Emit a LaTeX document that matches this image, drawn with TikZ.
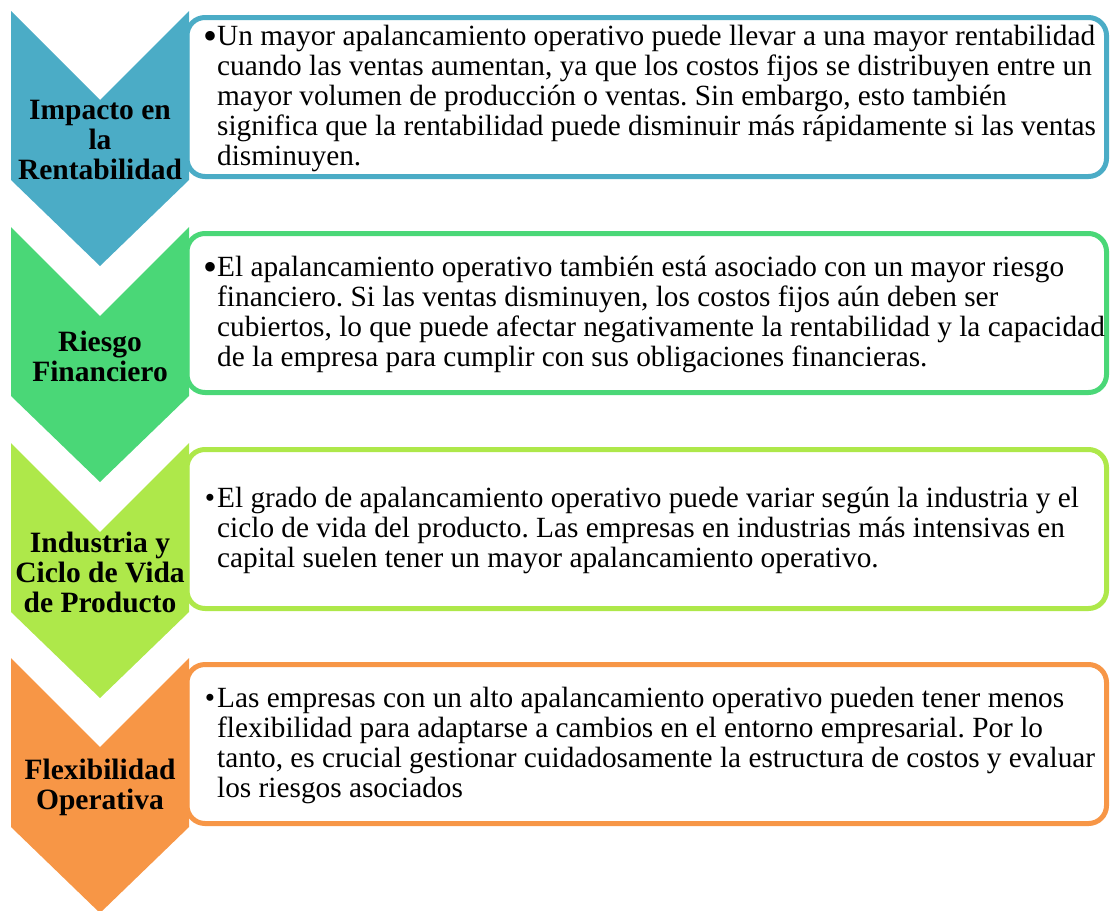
\documentclass[tikz,border=0pt]{standalone}
\usepackage{fontspec}
\setmainfont{Liberation Serif}
\frenchspacing
\definecolor{azul}{HTML}{4BACC6}
\definecolor{verde}{HTML}{4AD777}
\definecolor{lima}{HTML}{AEE84A}
\definecolor{naranja}{HTML}{F79646}
\newcommand{\bgrande}{\llap{\raisebox{-4.5pt}{\fontsize{40}{30}\selectfont\textbullet}}}
\newcommand{\bchico}{\llap{\textbullet\hspace{2pt}}}
% one row: name, top, colour, label, bullet, text
\newcommand{\etapa}[6]{%
  \draw[#3,line width=5pt,fill=white,rounded corners=18pt]
    (187,{#2+6.5}) -- (1106.5,{#2+6.5}) -- (1106.5,{#2+165.5}) -- (187,{#2+165.5}) -- cycle;
  \fill[#3] (11,#2) -- (100,{#2+89}) -- (189,#2) -- (189,{#2+169})
    -- (100,{#2+255}) -- (11,{#2+169}) -- cycle;
  \node[etiqueta] (lbl#1) at (100,{#2+129}) {#4};
  \node[texto] (txt#1) at (217,{#2+87}) {#5#6};
}

\begin{document}
\begin{tikzpicture}[x=1pt,y=-1pt,
  etiqueta/.style={align=center,inner sep=0pt,font=\fontsize{29.5}{30}\selectfont\bfseries},
  texto/.style={anchor=west,align=left,inner sep=0pt,font=\fontsize{29.3}{30}\selectfont}]
  \useasboundingbox (0,0) rectangle (1110,910);

  \etapa{1}{11}{azul}{Impacto en\\la\\Rentabilidad}{\bgrande}{Un mayor apalancamiento operativo puede llevar a una mayor rentabilidad\\cuando las ventas aumentan, ya que los costos fijos se distribuyen entre un\\mayor volumen de producción o ventas. Sin embargo, esto también\\significa que la rentabilidad puede disminuir más rápidamente si las ventas\\disminuyen.}
  \etapa{2}{227}{verde}{Riesgo\\Financiero}{\bgrande}{El apalancamiento operativo también está asociado con un mayor riesgo\\financiero. Si las ventas disminuyen, los costos fijos aún deben ser\\cubiertos, lo que puede afectar negativamente la rentabilidad y la capacidad\\de la empresa para cumplir con sus obligaciones financieras.}
  \etapa{3}{443}{lima}{Industria y\\Ciclo de Vida\\de Producto}{\bchico}{El grado de apalancamiento operativo puede variar según la industria y el\\ciclo de vida del producto. Las empresas en industrias más intensivas en\\capital suelen tener un mayor apalancamiento operativo.}
  \etapa{4}{658}{naranja}{Flexibilidad\\Operativa}{\bchico}{Las empresas con un alto apalancamiento operativo pueden tener menos\\flexibilidad para adaptarse a cambios en el entorno empresarial. Por lo\\tanto, es crucial gestionar cuidadosamente la estructura de costos y evaluar\\los riesgos asociados}
\end{tikzpicture}
\end{document}
